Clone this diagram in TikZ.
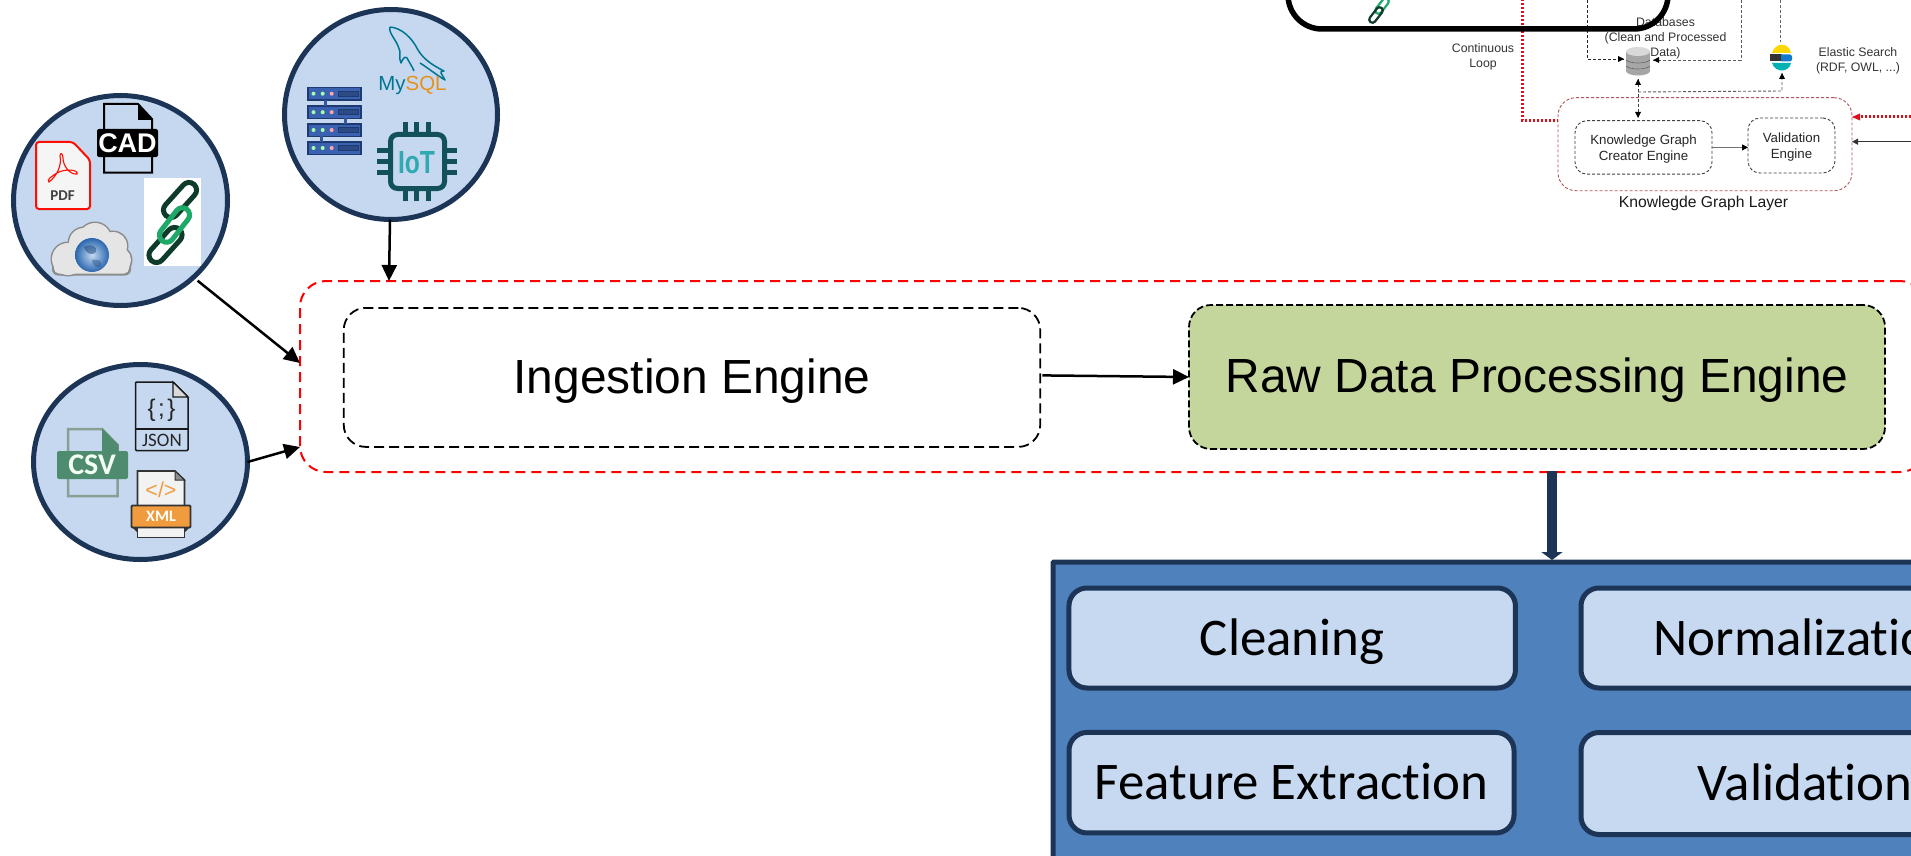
\documentclass[tikz,border=0pt]{standalone}
\usepackage{fontspec}
\setmainfont{Liberation Sans}
\newfontfamily\calib[Ligatures=NoCommon]{Carlito}
\usetikzlibrary{arrows.meta,shapes.geometric,calc}
\definecolor{navy}{HTML}{1C3557}
\definecolor{circfill}{HTML}{C5D8F0}
\definecolor{boxblue}{HTML}{4F81BD}
\definecolor{inner}{HTML}{C6D9F1}
\definecolor{olive}{HTML}{C4D69B}
\definecolor{kgred}{HTML}{B5545A}
\definecolor{dred}{HTML}{E0101A}
\definecolor{chaind}{HTML}{0E3B2A}
\definecolor{chaing}{HTML}{1FA968}
\definecolor{mysqlb}{HTML}{00758F}
\definecolor{mysqlo}{HTML}{E8901A}
\definecolor{iotd}{HTML}{12505A}
\definecolor{iotl}{HTML}{30A9B0}
\definecolor{csvg}{HTML}{4F8B6E}
\definecolor{xmlo}{HTML}{F09C3E}
\definecolor{rackd}{HTML}{1F3A70}
\definecolor{rackb}{HTML}{3A62B0}
\definecolor{globeout}{HTML}{2A66AE}
\definecolor{globein}{HTML}{C4DAF2}
\tikzset{
  srcircle/.style={ellipse,draw=navy,fill=circfill,line width=5pt,inner sep=0pt,outer sep=0pt},
  engine/.style={rectangle,rounded corners=22pt,draw=black,line width=1.8pt,inner sep=0pt,outer sep=0pt,
    dash pattern=on 10pt off 5pt,font=\fontsize{47.9}{50}\selectfont},
  redbox/.style={rectangle,rounded corners=26pt,draw=red,line width=2pt,inner sep=0pt,outer sep=0pt,
    dash pattern=on 10pt off 6pt},
  procbox/.style={rectangle,rounded corners=1pt,draw=navy,fill=boxblue,line width=5pt,inner sep=0pt,outer sep=0pt},
  stepcard/.style={rectangle,rounded corners=18pt,draw=navy,fill=inner,line width=5pt,inner sep=0pt,outer sep=0pt,
    font=\calib\fontsize{52.9}{55}\selectfont,text height=34.5pt,text depth=0pt},
  arr/.style={draw=black,line width=2.5pt,-{Triangle[length=16pt,width=15pt]}},
  smalltext/.style={inner sep=0pt,outer sep=0pt,align=center,text=black!80,font=\fontsize{12.3}{15}\selectfont},
  kgtext/.style={rectangle,rounded corners=12pt,inner sep=0pt,outer sep=0pt,align=center,text=black!85,
    dash pattern=on 3pt off 2pt,draw=black!75,line width=.9pt,font=\fontsize{13.3}{16}\selectfont},
  thinarr/.style={line width=.9pt,-{Triangle[length=6pt,width=6pt]}},
  dasharr/.style={line width=.9pt,dash pattern=on 3pt off 2pt},
  redarr/.style={draw=dred,line width=3pt,dash pattern=on 2.5pt off 1.5pt},
  icontext/.style={inner sep=0pt,outer sep=0pt,anchor=base},
}
\newcommand{\chainlink}[6]{% x y angle halflength colour width
  \draw[#5,line width=#6pt,rounded corners=#4*0.36pt,shift={(#1,#2)},rotate=#3]
    (-#4,-#4*0.36) rectangle (#4,#4*0.36);}
\begin{document}
\begin{tikzpicture}[x=1pt,y=-1pt]
\path[use as bounding box] (0,0) rectangle (1911,856);
\clip (0,0) rectangle (1911,856);
\fill[white] (0,0) rectangle (1911,856);

% ---------- main red layer ----------
\node[redbox,minimum width=1626pt,minimum height=191pt] (layer) at (1113,376.5) {};
\coordinate (ltop) at (389,281);
\coordinate (lleft) at (300,363);
\coordinate (lbot) at (300,447);

% ---------- engines ----------
\node[engine,minimum width=696.5pt,minimum height=139pt,text height=40pt,text depth=7pt] (ing) at (692,377.4) {Ingestion Engine};
\node[engine,fill=olive,minimum width=696pt,minimum height=144pt,dash pattern=on 7pt off 3pt,text height=40pt,text depth=9pt] (raw) at (1537,377) {Raw Data Processing Engine};
\draw[arr] ([shift={(2,-2)}]ing.east) -- (raw.west);

% ---------- source circles ----------
\node[srcircle,minimum width=214pt,minimum height=210pt] (c1) at (120.5,200.5) {};
\node[srcircle,minimum width=213pt,minimum height=210pt] (c2) at (391,114.5) {};
\node[srcircle,minimum width=214pt,minimum height=195pt] (c3) at (140.5,462) {};
\draw[arr] ([shift={(3.5,4)}]c1.-46) -- (lleft);
\draw[arr] ([shift={(-1,0)}]c2.south) -- (ltop);
\draw[arr] (c3.east) -- (lbot);

% ---------- PDF icon ----------
\draw[draw=red!90!orange,fill=black!4,line width=2pt,rounded corners=3pt]
  (36,142) -- (73,142) -- (90,160) -- (90,209) -- (36,209) -- cycle;
\draw[red!90!orange,line width=1.1pt]
  (49,182) .. controls (57,176) and (62,165) .. (60,156)
  .. controls (60,152) and (63,153) .. (63,158)
  .. controls (63,166) and (70,175) .. (77,174)
  .. controls (79,170) and (66,168) .. (57,173)
  .. controls (52,176) and (46,180) .. (49,182) -- cycle;
\node[icontext,text=black!75,font=\calib\bfseries\fontsize{15}{15}\selectfont] (pdft) at (62.5,200) {PDF};

% ---------- CAD icon ----------
\draw[black,line width=2pt] (104,104) -- (138,104) -- (152,119) -- (152,172.5) -- (104,172.5) -- cycle;
\fill[black] (138,104) -- (153,120) -- (138,120) -- cycle;
\fill[black,rounded corners=2pt] (97,129) rectangle (158,157);
\node[icontext,text=white,font=\bfseries\fontsize{27}{27}\selectfont] (cadt) at (127.5,153) {CAD};

% ---------- link icon ----------
\fill[white] (144,178) rectangle (201,266);
\chainlink{180}{200}{48}{21}{chaind}{5}
\chainlink{165.5}{245}{48}{21}{chaind}{5}
\chainlink{174.5}{225}{52}{20}{chaing}{5}

% ---------- cloud icon ----------
\foreach \cx/\cy/\r in {68/259/16,84/243/15,95/239/16,113/246/14,118/260/13}{
  \fill[black!45] (\cx,\cy) circle (\r+1.5);}
\fill[black!45,rounded corners=6pt] (52,258) rectangle (131,275.5);
\foreach \cx/\cy/\r in {68/259/16,84/243/15,95/239/16,113/246/14,118/260/13}{
  \fill[black!10] (\cx,\cy) circle (\r);}
\fill[black!10,rounded corners=5pt] (54,258) rectangle (129,273.5);
\shade[inner color=globein,outer color=globeout] (92,255) circle (17);
\fill[globeout!70!black,opacity=.5] (84,247) .. controls (90,243) and (98,246) .. (96,252) .. controls (92,256) and (86,254) .. cycle;
\fill[globeout!70!black,opacity=.4] (92,260) .. controls (98,258) and (104,262) .. (100,267) .. controls (96,268) and (92,265) .. cycle;

% ---------- server icon ----------
\foreach \ry in {93.7,112.2,130,148}{
  \draw[rackd,fill=rackb,line width=1.6pt] (308,\ry-6) rectangle (361,\ry+6.5);
  \fill[green!35!white] (313.5,\ry) circle (2);
  \fill[green!35!white] (322.7,\ry) circle (2);
  \fill[red!35!white] (331.7,\ry) circle (2);
  \draw[rackd,fill=rackb!75!black,line width=1pt] (338,\ry-2.5) rectangle (358,\ry+2.5);
}
\fill[rackb!90!black] (324,100) rectangle (327,106);
\fill[rackb!90!black] (344,118) rectangle (347,124);
\fill[rackb!90!black] (320,136) rectangle (323,142);

% ---------- MySQL ----------
\draw[mysqlb,line width=1.5pt,line join=round]
  (390,27) .. controls (402,28) and (412,38) .. (418,50)
  .. controls (424,60) and (434,66) .. (444,71)
  .. controls (438,71) and (442,74) .. (445,80)
  .. controls (438,76) and (428,68) .. (420,63);
\draw[mysqlb,line width=1.5pt,line join=round]
  (390,27) .. controls (388,32) and (396,40) .. (398,46)
  .. controls (402,52) and (398,58) .. (401,63)
  .. controls (403,58) and (405,56) .. (407,58)
  .. controls (409,62) and (412,66) .. (414,71);
\node[icontext,font=\fontsize{20.4}{21}\selectfont] (mysql) at (412.5,90.5) {\textcolor{mysqlb}{My}\textcolor{mysqlo}{SQL}};

% ---------- IoT chip ----------
\foreach \p in {405.7,416.7,428.3}{
  \draw[iotd,line width=5pt] (\p,122) -- (\p,133);
  \draw[iotd,line width=5pt] (\p,190) -- (\p,201);}
\foreach \p in {150.7,161.7,172.3}{
  \draw[iotd,line width=5pt] (377,\p) -- (389,\p);
  \draw[iotd,line width=5pt] (446,\p) -- (457,\p);}
\draw[iotd,line width=5pt,rounded corners=7pt] (390.5,134.5) rectangle (444.5,188.5);
\node[icontext,text=iotl,font=\bfseries\fontsize{32}{32}\selectfont] (iot) at (416.5,173) {\scalebox{.77}[1]{IoT}};

% ---------- JSON ----------
\draw[black!90,line width=1.5pt,rounded corners=1pt] (135.5,382) -- (173,382) -- (188,397) -- (188,450.5) -- (135.5,450.5) -- cycle;
\draw[black!90,line width=1.2pt,fill=black!15] (173,382) -- (173,397) -- (188,397) -- cycle;
\draw[black!90,line width=1.2pt] (135.5,429) -- (188,429);
\node[icontext,text=black!85,font=\fontsize{24}{24}\selectfont] (jbr) at (161.5,416) {\{\hspace{2.5pt};\hspace{2.5pt}\}};
\node[icontext,text=black!85,font=\calib\fontsize{19}{19}\selectfont] (jsont) at (162,446) {JSON};

% ---------- CSV ----------
\draw[csvg!70!black!60,line width=2.5pt] (68,429) -- (102,429) -- (117.5,445) -- (117.5,496) -- (68,496) -- cycle;
\fill[csvg] (102,428) -- (118.5,445) -- (118.5,452) -- (102,452) -- cycle;
\fill[csvg,rounded corners=2pt] (57,451) rectangle (128,479);
\node[icontext,text=white!95!green,font=\calib\bfseries\fontsize{30}{30}\selectfont] (csvt) at (92,474.5) {CSV};

% ---------- XML ----------
\fill[black!80] (131,526) -- (137,526) -- (137,532) -- cycle;
\fill[black!80] (191,526) -- (185,526) -- (185,532) -- cycle;
\draw[black!80,fill=black!5,line width=1.6pt] (137.5,526) rectangle (184.5,537.5);
\draw[black!80,fill=black!5,line width=1.6pt] (137.5,505) -- (137.5,471) -- (175,471) -- (184.5,480) -- (184.5,505);
\draw[black!80,fill=black!45,line width=1pt] (175,471) -- (175,480) -- (184.5,480) -- cycle;
\draw[black!80,fill=xmlo,line width=1.8pt,rounded corners=1pt] (131.5,505.5) rectangle (190.5,527.5);
\node[icontext,text=xmlo,font=\fontsize{21.5}{22}\selectfont] (xmlb) at (161,497.5) {</>};
\node[icontext,text=white,font=\calib\bfseries\fontsize{16}{16}\selectfont] (xmlt) at (161,521.5) {XML};

% ---------- processing box ----------
\node[procbox,minimum width=1100pt,minimum height=400pt] (proc) at (1603,762) {};
\node[stepcard,minimum width=446.5pt,minimum height=100pt] (clean) at (1292.2,638) {Cleaning};
\node[stepcard,minimum width=445pt,minimum height=100.5pt] (feat) at (1291.5,782.7) {Feature Extraction};
\node[stepcard,minimum width=448pt,minimum height=100pt] (norm) at (1805,638) {Normalization};
\node[stepcard,minimum width=448pt,minimum height=102pt] (valid) at (1805,783.5) {Validation};
\coordinate (rawout) at (1552,471);
\coordinate (procin) at (1552,560);
\draw[navy,line width=10.5pt,-{Triangle[length=8pt,width=21pt]}] (rawout) -- (procin);

% ---------- knowledge graph fragment ----------
\coordinate (dotA) at (1522,-5);
\coordinate (dotB) at (1522,120.5);
\node[rectangle,rounded corners=18pt,draw=kgred,line width=.9pt,dash pattern=on 3pt off 2pt,inner sep=0pt,outer sep=0pt,minimum width=294pt,minimum height=93pt] (kgl) at (1705,144.2) {};
\node[kgtext,minimum width=137pt,minimum height=53.5pt] (kgc) at (1643.5,147.4) {\rule{0pt}{12pt}Knowledge Graph\\Creator Engine};
\node[kgtext,minimum width=87pt,minimum height=55pt] (kgv) at (1791.5,145.5) {\rule{0pt}{13.6pt}Validation\\Engine};
\draw[thinarr,draw=black!55,arrows={-{Triangle[length=6pt,width=6pt,black]}}] (kgc.east) -- (kgc.east -| kgv.west);
\node[inner sep=0pt,outer sep=0pt,anchor=base,text=black!90,font=\fontsize{15.7}{16}\selectfont] (kgt) at (1703.5,207) {Knowlegde Graph Layer};
\draw[redarr,line cap=butt] (dotA) -- (dotB) -- (kgl.west |- dotB);
\coordinate (redin) at (1911,117);
\coordinate (blkin) at (1911,141.7);
\draw[redarr] (redin) -- ($(kgl.east |- redin)+(8,0)$);
\fill[dred] (kgl.east |- redin) -- ++(8,-3.5) -- ++(0,7) -- cycle;
\draw[thinarr,black!80] (blkin) -- (kgl.east |- blkin);

\coordinate (dbtopL) at (1587,-5);
\coordinate (dbtopLb) at (1587,59);
\coordinate (dbL) at (1624,59);
\coordinate (dbtopR) at (1741,-5);
\coordinate (dbtopRb) at (1741,60);
\coordinate (dbR) at (1653,60);
\coordinate (estop) at (1780,-5);
\coordinate (esbot) at (1780,42);
\coordinate (dbbot) at (1638,79);
\coordinate (kgctop) at (1638,118);
\coordinate (branch) at (1638,92);
\coordinate (turn) at (1782,91);
\coordinate (esin) at (1782,73);
\draw[dasharr,black!85] (dbtopL) -- (dbtopLb) -- (dbL);
\fill[black] (dbL) -- ++(-6,-3) -- ++(0,6) -- cycle;
\draw[dasharr,black!65] (dbtopR) -- (dbtopRb) -- (dbR);
\fill[black] (dbR) -- ++(6,-3) -- ++(0,6) -- cycle;
\draw[dasharr,black!60] (estop) -- (esbot);
\draw[dasharr,black!75] (dbbot) -- (kgctop);
\fill[black] (dbbot) -- ++(-3,6) -- ++(6,0) -- cycle;
\fill[black] (kgctop) -- ++(-3,-6) -- ++(6,0) -- cycle;
\draw[dasharr,black!65] (branch) -- (turn) -- (esin);
\fill[black] (esin) -- ++(-3,6) -- ++(6,0) -- cycle;

% database icon
\fill[black!35] (1626,51.5) rectangle (1650,71);
\fill[black!35] (1638,71) ellipse[x radius=12,y radius=4.5];
\fill[black!15] (1638,51.5) ellipse[x radius=12,y radius=4.5];
\draw[black!60,line width=.6pt] (1626,60) .. controls (1630,64) and (1646,64) .. (1650,60);
\draw[black!60,line width=.6pt] (1626,66) .. controls (1630,70) and (1646,70) .. (1650,66);

% elastic icon
\fill[yellow!75!orange] (1772,53) .. controls (1775,42) and (1789,42) .. (1791,53) -- cycle;
\fill[black!80] (1770,54.5) rectangle (1782,61.5);
\fill[cyan!60!blue] (1781,54.5) -- (1790,54.5) .. controls (1793,55) and (1793,61) .. (1790,61.5) -- (1781,61.5) -- cycle;
\fill[teal!60!cyan] (1772,63) -- (1791,63) .. controls (1789,73) and (1775,73) .. (1772,63) -- cycle;

\node[smalltext] (dbtext) at (1665.5,38) {Databases\\(Clean and Processed\\Data)};
\node[smalltext] (estext) at (1858,60.6) {Elastic Search\\(RDF, OWL, ...)};
\node[smalltext] (loop) at (1483,56.8) {Continuous\\Loop};

% black frame and small link
\chainlink{1382}{6}{52}{9}{chaing}{2.2}
\chainlink{1376}{15}{52}{9}{chaind}{2.2}
\node[rectangle,rounded corners=34pt,draw=black,line width=5.5pt,inner sep=0pt,outer sep=0pt,minimum width=380pt,minimum height=200pt] (frame) at (1478,-71) {};
\end{tikzpicture}
\end{document}
